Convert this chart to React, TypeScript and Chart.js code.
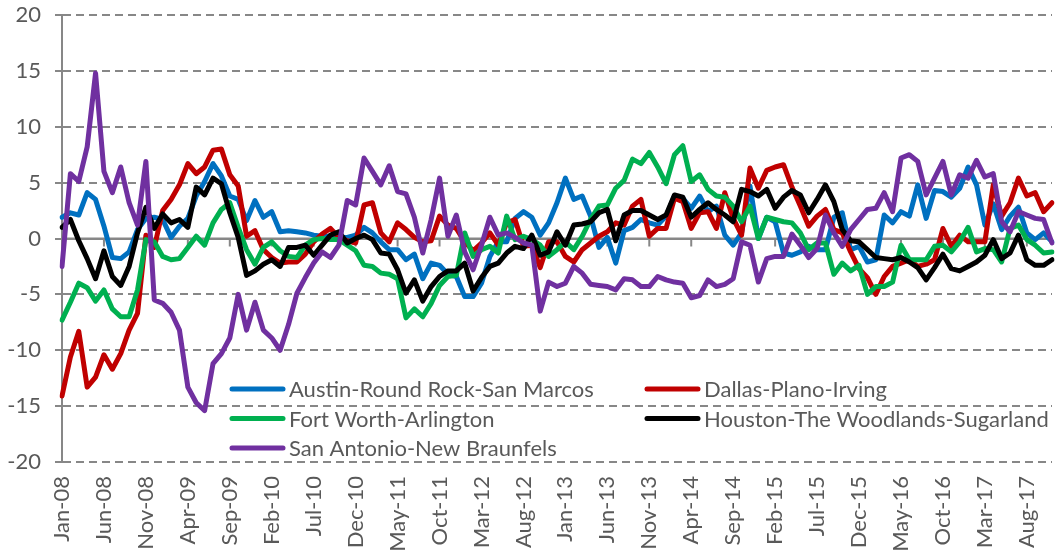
import React, { useEffect, useRef } from "react";
import { Chart, registerables } from "chart.js";

Chart.register(...registerables);

// ---------- data ----------
const MONTH_NAMES = ["Jan", "Feb", "Mar", "Apr", "May", "Jun", "Jul", "Aug", "Sep", "Oct", "Nov", "Dec"];
const START_YEAR = 2008;
const MONTH_COUNT = 119; // Jan-08 .. Nov-17
const LABEL_EVERY = 5;

const categories: string[] = [];
for (let i = 0; i < MONTH_COUNT; i++) {
  const yr = START_YEAR + Math.floor(i / 12);
  categories.push(`${MONTH_NAMES[i % 12]}-${String(yr % 100).padStart(2, "0")}`);
}

const seriesNames = [
  "Austin-Round Rock-San Marcos",
  "Dallas-Plano-Irving",
  "Fort Worth-Arlington",
  "Houston-The Woodlands-Sugarland",
  "San Antonio-New Braunfels",
];
const seriesColors = ["#0070C0", "#C00000", "#00B050", "#000000", "#7030A0"];

const austin = [
  1.9, 2.3, 2.1, 4.1, 3.5, 1.1, -1.7, -1.8, -1.2, 0.8,
  1.8, 1.9, 1.7, 0.1, 1.1, 1.8, 3.8, 5.1, 6.7, 5.6,
  3.8, 3.5, 1.6, 3.4, 1.9, 2.4, 0.6, 0.7, 0.6, 0.5,
  0.3, 0.2, 0.2, 0.1, 0.1, 0.3, 1.0, 0.5, -0.3, -1.0,
  -1.0, -1.9, -1.4, -3.6, -2.2, -2.4, -3.2, -3.4, -5.2, -5.2,
  -4.0, -1.6, -0.3, -0.3, 1.8, 2.4, 1.9, 0.3, 1.4, 3.2,
  5.4, 3.5, 3.8, 2.0, -0.8, 0.1, -2.2, 0.7, 1.0, 1.7,
  1.4, 1.2, 2.0, 3.8, 3.6, 2.7, 3.8, 2.4, 2.9, 0.3,
  -0.6, 0.5, 4.7, 0.0, 1.9, 1.5, -1.3, -1.5, -1.2, -0.7,
  -1.0, -1.0, 1.9, 2.3, -1.0, -0.7, -2.1, -1.9, 2.1, 1.4,
  2.4, 2.0, 4.8, 1.8, 4.3, 4.2, 3.7, 4.5, 6.4, 4.8,
  1.2, 3.1, 0.8, 2.0, 2.8, 0.5, -0.1, 0.5, -0.3,
];

const dallas = [
  -14.1, -10.6, -8.3, -13.3, -12.4, -10.4, -11.7, -10.3, -8.2, -6.7,
  0.3, -0.8, 2.5, 3.5, 4.8, 6.7, 5.8, 6.4, 7.9, 8.0,
  5.7, 4.7, 0.2, 0.7, -1.0, -1.7, -2.2, -2.1, -2.1, -1.4,
  -0.3, 0.4, 0.9, 0.1, -0.2, -0.4, 3.0, 3.2, 0.5, -0.3,
  1.4, 0.8, 0.1, -0.3, -0.2, 2.0, 1.2, 0.9, -0.3, -1.1,
  -0.4, 0.5, -0.6, 1.4, 1.7, -0.7, -0.6, -2.6, -0.3, -0.3,
  -1.6, -2.1, -1.0, -0.4, 0.2, 0.6, 1.4, 1.2, 2.9, 3.5,
  0.2, 0.9, 0.9, 3.6, 3.3, 0.9, 2.3, 2.4, 0.9, 4.1,
  1.8, 0.3, 6.3, 4.5, 6.1, 6.4, 6.6, 4.6, 2.9, 1.1,
  2.0, 2.6, 0.8, 0.5, -1.2, -2.7, -3.5, -5.0, -3.4, -2.5,
  -2.2, -1.9, -2.5, -2.3, -1.9, 0.9, -0.7, 0.3, -0.3, -0.3,
  -0.3, 4.8, 2.0, 3.2, 5.4, 3.8, 4.1, 2.4, 3.2,
];

const fortWorth = [
  -7.3, -5.7, -4.0, -4.4, -5.6, -4.6, -6.3, -7.0, -7.0, -4.6,
  -0.1, -0.3, -1.6, -1.9, -1.8, -0.8, 0.2, -0.6, 1.4, 2.6,
  3.2, 1.0, -1.0, -2.3, -0.8, -0.3, -1.1, -1.6, -1.7, -0.6,
  -0.1, 0.0, -0.1, -0.1, -0.6, -1.1, -2.4, -2.5, -3.1, -3.2,
  -3.6, -7.1, -6.3, -7.0, -5.8, -4.2, -3.4, -3.3, 0.5, -1.6,
  -1.0, -0.7, -1.3, 2.0, -0.1, 0.2, -0.1, -0.6, -1.6, -1.0,
  -0.3, -1.0, 0.2, 1.7, 2.9, 3.0, 4.5, 5.2, 7.1, 6.7,
  7.7, 6.4, 4.9, 7.5, 8.3, 5.1, 5.7, 4.4, 3.8, 3.7,
  2.9, 1.5, 2.9, 0.0, 1.9, 1.7, 1.5, 1.4, 0.5, -1.0,
  -0.4, -0.4, -3.2, -2.2, -2.9, -2.4, -5.0, -4.3, -4.3, -3.9,
  -0.6, -1.9, -1.9, -1.9, -0.7, -0.6, -1.2, -0.3, 1.0, -1.2,
  -0.9, -1.0, -2.1, 0.9, 1.2, -0.1, -0.6, -1.3, -1.2,
];

const houston = [
  1.0, 1.7, -0.2, -1.8, -3.6, -1.1, -3.4, -4.2, -2.5, 0.5,
  2.8, 0.9, 2.2, 1.4, 1.7, 1.0, 4.6, 3.9, 5.4, 4.9,
  2.3, 0.1, -3.3, -2.9, -2.3, -1.9, -2.5, -0.8, -0.8, -0.6,
  -1.5, -0.6, 0.3, 0.6, -0.4, 0.0, 0.3, -0.1, -1.3, -1.4,
  -2.8, -4.9, -3.7, -5.6, -4.3, -3.4, -2.9, -2.9, -2.2, -4.7,
  -3.5, -2.5, -2.2, -1.3, -0.7, -0.9, 0.3, -1.5, -1.2, 0.6,
  -0.6, 1.2, 1.3, 1.5, 2.3, 2.6, -0.2, 2.1, 2.5, 2.5,
  2.1, 1.7, 2.1, 3.9, 3.7, 1.9, 2.6, 3.2, 2.6, 2.1,
  1.5, 4.4, 4.2, 3.8, 4.4, 2.7, 3.7, 4.3, 3.9, 2.3,
  3.5, 4.8, 3.3, 0.8, -0.2, -0.3, -1.0, -1.7, -1.8, -1.9,
  -1.7, -2.1, -2.6, -3.7, -2.6, -1.4, -2.7, -2.9, -2.5, -2.1,
  -1.5, -0.1, -1.8, -1.3, 0.3, -1.9, -2.4, -2.4, -1.9,
];

const sanAntonio = [
  -2.5, 5.8, 5.1, 8.2, 14.8, 6.0, 4.1, 6.4, 3.2, 1.2,
  6.9, -5.5, -5.8, -6.6, -8.2, -13.3, -14.7, -15.4, -11.2, -10.3,
  -8.9, -5.0, -8.2, -5.7, -8.2, -8.9, -10.0, -7.7, -4.9, -3.5,
  -2.2, -1.2, -1.7, -0.6, 3.4, 3.0, 7.2, 6.0, 4.8, 6.5,
  4.2, 4.0, 1.9, -1.3, 1.7, 5.4, 0.2, 2.1, -1.2, -2.8,
  -0.6, 1.9, 0.3, 0.5, 0.1, -0.4, -0.6, -6.5, -3.9, -4.3,
  -4.0, -2.5, -3.1, -4.1, -4.2, -4.3, -4.6, -3.6, -3.7, -4.3,
  -4.3, -3.4, -3.7, -3.9, -4.0, -5.3, -5.1, -3.7, -4.3, -4.1,
  -3.6, -0.3, -0.6, -3.9, -1.8, -1.6, -1.6, 0.4, -0.6, -1.7,
  -0.9, 2.1, 0.5, -0.7, 0.8, 1.7, 2.6, 2.7, 4.1, 2.4,
  7.2, 7.5, 6.9, 3.9, 5.4, 6.9, 3.9, 5.7, 5.4, 7.0,
  5.5, 5.8, 1.5, 0.6, 2.4, 2.1, 1.8, 1.7, -0.4,
];

const seriesValues = [austin, dallas, fortWorth, houston, sanAntonio];

const Y_MIN = -20;
const Y_MAX = 20;
const Y_STEP = 5;

// ---------- styles ----------
const TEXT_COLOR = "#595959";
const GRID_COLOR = "#878787";
const FONT_FAMILY = "Lato, 'Open Sans', sans-serif";

function fitFontSize(text: string, target: number): number {
  const c = document.createElement("canvas").getContext("2d");
  if (!c) return 20;
  c.font = `100px ${FONT_FAMILY}`;
  const w = c.measureText(text).width;
  return w > 0 ? (100 * target) / w : 20;
}

export default function App() {
  const canvasRef = useRef<HTMLCanvasElement | null>(null);

  useEffect(() => {
    document.body.style.margin = "0";
    const canvas = canvasRef.current;
    if (!canvas) return;

    const fontSize = Math.round(fitFontSize(seriesNames[3], 345) * 10) / 10;

    const zeroAndTicks = {
      id: "zeroAndTicks",
      beforeDatasetsDraw(chart: any) {
        const { ctx, chartArea, scales } = chart;
        const y0 = scales.y.getPixelForValue(0);
        ctx.save();
        ctx.strokeStyle = GRID_COLOR;
        ctx.lineWidth = 2;
        ctx.setLineDash([]);
        ctx.beginPath();
        ctx.moveTo(chartArea.left, y0);
        ctx.lineTo(chartArea.right, y0);
        for (let i = 0; i < categories.length; i += LABEL_EVERY) {
          const x = scales.x.getPixelForValue(i);
          ctx.moveTo(x, y0);
          ctx.lineTo(x, y0 + 8);
        }
        ctx.stroke();
        ctx.restore();
      },
    };

    const customLegend = {
      id: "customLegend",
      afterDraw(chart: any) {
        const { ctx, chartArea } = chart;
        const col1 = chartArea.left + 168;
        const col2 = chartArea.left + 583;
        const row0 = chartArea.top + 374;
        const rowGap = 29.5;
        const pos = [
          [col1, row0],
          [col2, row0],
          [col1, row0 + rowGap],
          [col2, row0 + rowGap],
          [col1, row0 + 2 * rowGap],
        ];
        ctx.save();
        ctx.font = `${fontSize}px ${FONT_FAMILY}`;
        ctx.textBaseline = "middle";
        ctx.textAlign = "left";
        seriesNames.forEach((name, k) => {
          const [x, y] = pos[k];
          ctx.strokeStyle = seriesColors[k];
          ctx.lineWidth = 5;
          ctx.lineCap = "round";
          ctx.beginPath();
          ctx.moveTo(x + 2, y);
          ctx.lineTo(x + 53, y);
          ctx.stroke();
          ctx.fillStyle = TEXT_COLOR;
          ctx.fillText(name, x + 59, y + 1);
        });
        ctx.restore();
      },
    };

    const chart = new Chart(canvas, {
      type: "line",
      data: {
        labels: categories,
        datasets: seriesNames.map((name, k) => ({
          label: name,
          data: seriesValues[k],
          borderColor: seriesColors[k],
          backgroundColor: seriesColors[k],
          borderWidth: 5,
          pointRadius: 0,
          tension: 0,
          fill: false,
          borderJoinStyle: "round" as const,
          borderCapStyle: "round" as const,
          order: seriesNames.length - k,
        })),
      },
      options: {
        animation: false,
        responsive: true,
        maintainAspectRatio: false,
        layout: { padding: { top: 15, right: 5, left: 0, bottom: 0 } },
        plugins: {
          legend: { display: false },
          tooltip: { enabled: false },
        },
        scales: {
          x: {
            type: "category",
            offset: false,
            grid: { display: false, drawTicks: false },
            border: { display: false },
            afterFit: (scale: any) => {
              scale.height = 90;
              scale.paddingTop = 0;
              scale.paddingBottom = 0;
              scale.paddingLeft = 0;
              scale.paddingRight = 0;
            },
            ticks: {
              autoSkip: false,
              maxRotation: 90,
              minRotation: 90,
              padding: 14,
              color: TEXT_COLOR,
              font: { family: FONT_FAMILY, size: fontSize },
              callback: (_v: any, idx: number) => (idx % LABEL_EVERY === 0 ? categories[idx] : null),
            },
          },
          y: {
            min: Y_MIN,
            max: Y_MAX,
            afterFit: (scale: any) => {
              scale.width = 62;
              scale.paddingTop = 0;
              scale.paddingBottom = 0;
              scale.paddingLeft = 0;
              scale.paddingRight = 0;
            },
            grid: {
              color: GRID_COLOR,
              lineWidth: 2,
              drawTicks: true,
              tickLength: 7,
            },
            border: {
              display: true,
              color: GRID_COLOR,
              width: 2,
              dash: (ctx: any) => (ctx.tick && ctx.tick.value === 0 ? [] : [8, 5]),
            },
            ticks: {
              stepSize: Y_STEP,
              padding: 14,
              color: TEXT_COLOR,
              font: { family: FONT_FAMILY, size: fontSize },
            },
          },
        },
      },
      plugins: [zeroAndTicks, customLegend],
    });

    return () => chart.destroy();
  }, []);

  return (
    <div style={{ position: "relative", width: "1057px", height: "552px" }}>
      <canvas ref={canvasRef} />
    </div>
  );
}
